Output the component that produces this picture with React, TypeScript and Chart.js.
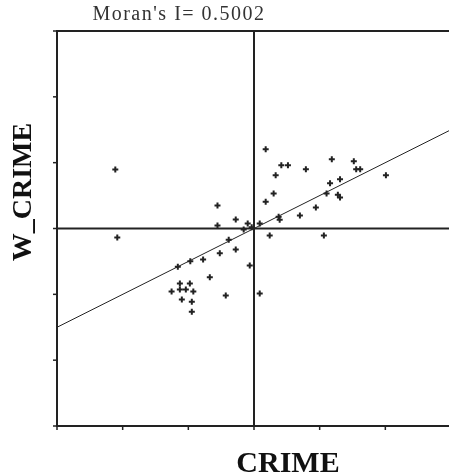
import React, { useEffect, useRef } from "react";
import { Chart, registerables } from "chart.js";

Chart.register(...registerables);

const TITLE = "Moran's I= 0.5002";
const X_LABEL = "CRIME";
const Y_LABEL = "W_CRIME";
const MORANS_I = 0.5002;
const AXIS_MIN = -3;
const AXIS_MAX = 3;
const TICK_VALUES = [-3, -2, -1, 0, 1, 2, 3];

// standardized CRIME (z) and its spatial lag W_CRIME
const crime = [
  -2.112, -2.082, -0.556, -0.556, -0.278, -0.096, -0.157, 0.087, -0.035, -0.385,
  -0.278, -0.521, -0.775, -0.97, -1.16, -0.065, -0.673, -1.129, -0.977, -1.255,
  -1.129, -1.038, -0.924, -0.43, -1.099, -0.947, -0.947, 0.087, 0.178, 0.239,
  0.178, 0.416, 0.517, 0.33, 0.79, 1.185, 1.52, 1.556, 1.617, 2.009,
  1.158, 1.31, 0.299, 1.105, 1.277, 1.31, 0.942, 0.699, 0.375, 0.391,
  1.064,
];
const wCrime = [
  0.897, -0.137, 0.35, 0.046, 0.137, 0.076, -0.015, 0.076, 0.02, -0.17,
  -0.319, -0.375, -0.471, -0.497, -0.581, -0.562, -0.74, -0.836, -0.836, -0.957,
  -0.927, -0.927, -0.957, -1.018, -1.079, -1.112, -1.264, -0.988, 0.407, -0.105,
  1.205, 0.962, 0.962, 0.81, 0.901, 1.053, 1.023, 0.901, 0.901, 0.81,
  0.688, 0.749, 0.533, 0.532, 0.514, 0.471, 0.319, 0.198, 0.179, 0.134,
  -0.105,
];

const CANVAS_W = 470;
const CANVAS_H = 474;

const moranPlugin = {
  id: "moranFrame",
  beforeDatasetsDraw(chart: any) {
    const { ctx, chartArea: a, scales } = chart;
    const x = scales.x;
    const y = scales.y;
    ctx.save();
    ctx.strokeStyle = "#222";
    ctx.lineWidth = 2;
    const seg = (x1: number, y1: number, x2: number, y2: number) => {
      ctx.beginPath();
      ctx.moveTo(x1, y1);
      ctx.lineTo(x2, y2);
      ctx.stroke();
    };
    seg(a.left, a.top - 1, a.left, a.bottom + 1);
    seg(a.left - 1, a.top, a.right, a.top);
    seg(a.left - 1, a.bottom, a.right, a.bottom);
    seg(a.right, a.top, a.right, a.bottom);
    const x0 = x.getPixelForValue(0);
    const y0 = y.getPixelForValue(0);
    seg(x0, a.top, x0, a.bottom);
    seg(a.left, y0, a.right, y0);
    ctx.lineWidth = 1.5;
    TICK_VALUES.forEach((v) => {
      const px = x.getPixelForValue(v);
      seg(px, a.bottom, px, a.bottom + 4);
      const py = y.getPixelForValue(v);
      seg(a.left - 4, py, a.left, py);
    });
    ctx.restore();
  },
  afterDraw(chart: any) {
    const { ctx } = chart;
    ctx.save();
    // title
    ctx.fillStyle = "#333";
    ctx.font = "20px 'Liberation Serif', 'Times New Roman', serif";
    (ctx as any).letterSpacing = "1.5px";
    ctx.textAlign = "center";
    ctx.textBaseline = "alphabetic";
    ctx.fillText(TITLE, 179, 20);
    (ctx as any).letterSpacing = "0px";
    // x label
    ctx.fillStyle = "#111";
    ctx.font = "bold 30px 'Liberation Serif', 'Times New Roman', serif";
    ctx.fillText(X_LABEL, 288, 472);
    // y label
    ctx.translate(31, 192);
    ctx.rotate(-Math.PI / 2);
    ctx.font = "bold 28px 'Liberation Serif', 'Times New Roman', serif";
    ctx.fillText(Y_LABEL, 0, 0);
    ctx.restore();
  },
};

export default function App() {
  const ref = useRef<HTMLCanvasElement | null>(null);
  useEffect(() => {
    if (!ref.current) return;
    const points = crime.map((c, i) => ({ x: c, y: wCrime[i] }));
    const fitLine = [AXIS_MIN, AXIS_MAX].map((v) => ({ x: v, y: MORANS_I * v }));
    const chart = new Chart(ref.current, {
      type: "scatter",
      data: {
        datasets: [
          {
            type: "line",
            data: fitLine,
            borderColor: "#222",
            borderWidth: 1,
            pointRadius: 0,
            fill: false,
          } as any,
          {
            type: "scatter",
            data: points,
            pointStyle: "cross",
            pointRadius: 3,
            borderColor: "#222",
            backgroundColor: "#222",
            borderWidth: 2,
          } as any,
        ],
      },
      options: {
        animation: false,
        responsive: false,
        events: [],
        layout: { padding: { left: 0, top: 31, right: CANVAS_W - 451, bottom: 0 } },
        plugins: { legend: { display: false }, tooltip: { enabled: false }, title: { display: false } },
        scales: {
          x: {
            type: "linear",
            min: AXIS_MIN,
            max: AXIS_MAX,
            ticks: { display: false, stepSize: 1 },
            grid: { display: false },
            border: { display: false },
            afterFit: (s: any) => {
              s.height = CANVAS_H - 426;
            },
          },
          y: {
            type: "linear",
            min: AXIS_MIN,
            max: AXIS_MAX,
            ticks: { display: false, stepSize: 1 },
            grid: { display: false },
            border: { display: false },
            afterFit: (s: any) => {
              s.width = 57;
            },
          },
        },
      },
      plugins: [moranPlugin],
    });
    return () => chart.destroy();
  }, []);
  return (
    <div style={{ position: "absolute", left: 0, top: 0, width: 449, height: 474, overflow: "hidden", background: "#fff" }}>
      <canvas ref={ref} width={CANVAS_W} height={CANVAS_H} style={{ display: "block" }} />
    </div>
  );
}
